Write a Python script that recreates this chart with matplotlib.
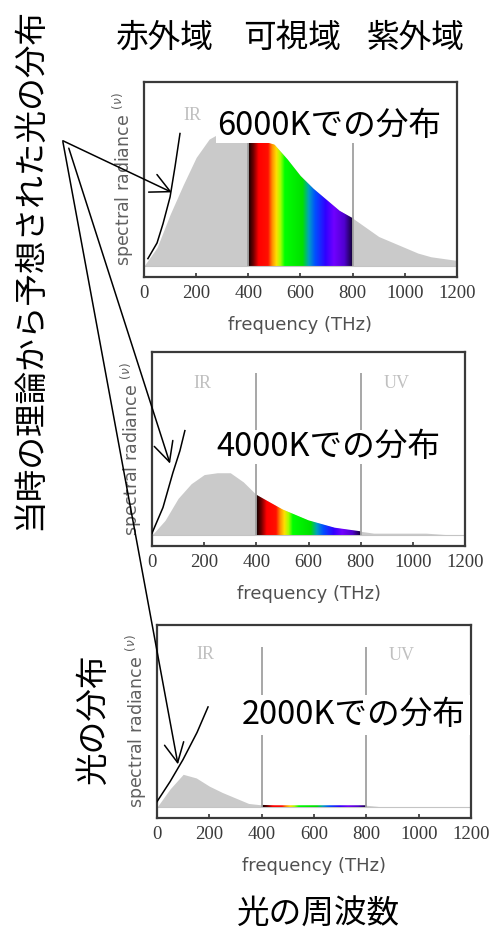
import matplotlib
matplotlib.use('Agg')
import matplotlib.pyplot as plt
from matplotlib.colors import LinearSegmentedColormap
import numpy as np

plt.rcParams['font.family'] = ['Noto Sans CJK JP', 'DejaVu Sans']

# frequency grid (THz) and read-off spectral radiance (arbitrary units, 100 = top of frame)
freq = [0, 50, 100, 150, 200, 250, 300, 350, 400, 450, 500, 550, 600,
        650, 700, 750, 800, 850, 900, 950, 1000, 1050, 1100, 1150, 1200]
rad_6000 = [0, 10, 28, 44, 59, 69, 73, 74, 70, 68, 66, 58, 49,
            42, 36, 30, 26, 21, 16, 13, 10, 7, 5, 4, 3]
rad_4000 = [0, 8, 20, 28, 33, 34, 34, 29, 22, 18, 14, 11, 8,
            6, 4, 3, 2, 1, 1, 1, 1, 1, 0.5, 0, 0]
rad_2000 = [0, 10, 18, 16, 11.5, 8, 5, 2, 1.2, 1, 1, 1, 1,
            1, 1, 1, 1, 0.3, 0, 0, 0, 0, 0, 0, 0]

# hand drawn "classical theory" curves
rj_f_6000 = [15, 50, 73, 100, 119, 138]
rj_v_6000 = [4, 12.5, 23, 37.5, 54, 72]
rj_f_4000 = [0, 42, 80, 107, 126]
rj_v_4000 = [1, 15, 34, 46, 57]
rj_f_2000 = [0, 50, 99, 153, 195]
rj_v_2000 = [3, 14, 26, 41, 55]

temps = ['6000K', '4000K', '2000K']
xticks = [0, 200, 400, 600, 800, 1000, 1200]

rainbow = LinearSegmentedColormap.from_list('vis', [
    (0.00, '#0a0000'), (0.05, '#700000'), (0.10, '#ff0000'), (0.19, '#ff1000'),
    (0.23, '#ff9000'), (0.27, '#ffe000'), (0.31, '#a0ff00'), (0.35, '#00ff00'),
    (0.52, '#00e000'), (0.58, '#00a0c0'), (0.64, '#0050ff'), (0.74, '#3000ff'),
    (0.82, '#7000ff'), (0.92, '#5000d0'), (1.00, '#100030')])

fig = plt.figure(figsize=(4.95, 9.32), dpi=100)

positions = [[0.2909, 0.7028, 0.6323, 0.2092],
             [0.3071, 0.4142, 0.6323, 0.2082],
             [0.3172, 0.1223, 0.6343, 0.2071]]
rads = [rad_6000, rad_4000, rad_2000]
rjs = [(rj_f_6000, rj_v_6000), (rj_f_4000, rj_v_4000), (rj_f_2000, rj_v_2000)]
line_tops = [85, 88.5, 88]
ir_pos = [(184, 82), (192, 83), (183, 84)]
uv_pos = [None, (939, 83), (935, 83)]
arrow_tips = [(107, 40), (69, 39), (80, 23.5)]
arrow_tails = [(0.127, 0.849), (0.139, 0.841), (0.127, 0.848)]

axes = []
for i in range(3):
    ax = fig.add_axes(positions[i])
    f = np.array(freq)
    r = np.array(rads[i])
    ax.fill_between(f, 0, r, color='#cacaca', lw=0, zorder=1)
    ax.axhline(0, color='#c4c4c4', lw=0.8, zorder=1)
    # visible band, clipped to the curve
    m = (f >= 400) & (f <= 800)
    clip = ax.fill_between(f[m], 0, r[m], color='none', lw=0)
    grad = np.linspace(0, 1, 256)[np.newaxis, :]
    im = ax.imshow(grad, extent=(400, 800, 0, 100), aspect='auto', cmap=rainbow,
                   zorder=2, interpolation='bilinear')
    im.set_clip_path(clip.get_paths()[0], ax.transData)
    ax.vlines([400, 800], 0, line_tops[i], color='#a0a0a0', lw=1.3, zorder=3)
    ax.text(ir_pos[i][0], ir_pos[i][1], 'IR', family='Liberation Serif', fontsize=13,
            color='#c0c0c0', ha='center', va='center')
    if uv_pos[i] is not None:
        ax.text(uv_pos[i][0], uv_pos[i][1], 'UV', family='Liberation Serif', fontsize=13,
                color='#c0c0c0', ha='center', va='center')
    ax.plot(rjs[i][0], rjs[i][1], color='black', lw=1.1, zorder=5)

    ax.set_xlim(0, 1200)
    ax.set_ylim(-6, 100)
    ax.set_xticks(xticks)
    ax.set_yticks([])
    ax.tick_params(axis='x', direction='in', length=3, width=1.2, color='#333333',
                   labelsize=13.5, labelcolor='#3a3a3a', pad=6,
                   labelfontfamily='Liberation Serif')
    for s in ax.spines.values():
        s.set_color('#3a3a3a')
        s.set_linewidth(1.6)
    ax.set_xlabel('frequency (THz)', family='DejaVu Sans', fontsize=13,
                  color='#505050', labelpad=10)
    ax.set_ylabel(r'spectral radiance $^{(\nu)}$', family='DejaVu Sans', fontsize=12.5,
                  color='#606060', labelpad=6)
    ax.annotate('', xy=arrow_tips[i], xycoords='data',
                xytext=arrow_tails[i], textcoords='figure fraction',
                arrowprops=dict(arrowstyle='->,head_length=0.7,head_width=0.35',
                                color='black', lw=1.1, shrinkA=0, shrinkB=0,
                                mutation_scale=20), zorder=10)
    axes.append(ax)

# temperature labels with white boxes
label_pos = [(0.665, 0.865), (0.663, 0.520), (0.715, 0.233)]
label_pad = [0.08, 0.08, 0.3]
for i in range(3):
    fig.text(label_pos[i][0], label_pos[i][1], temps[i] + 'での分布', fontsize=23.5,
             ha='center', va='center',
             bbox=dict(facecolor='white', edgecolor='none', pad=label_pad[i] * 10))

fig.text(0.333, 0.959, '赤外域', fontsize=23.5, ha='center', va='center')
fig.text(0.590, 0.959, '可視域', fontsize=23.5, ha='center', va='center')
fig.text(0.840, 0.959, '紫外域', fontsize=23.5, ha='center', va='center')

fig.text(0.061, 0.711, '当時の理論から予想された光の分布', fontsize=23.5,
         rotation=90, ha='center', va='center')
fig.text(0.190, 0.229, '光の分布', fontsize=23.5, rotation=90, ha='center', va='center')
fig.text(0.644, 0.018, '光の周波数', fontsize=23.5, ha='center', va='center')

plt.savefig('out.png', dpi=100)
